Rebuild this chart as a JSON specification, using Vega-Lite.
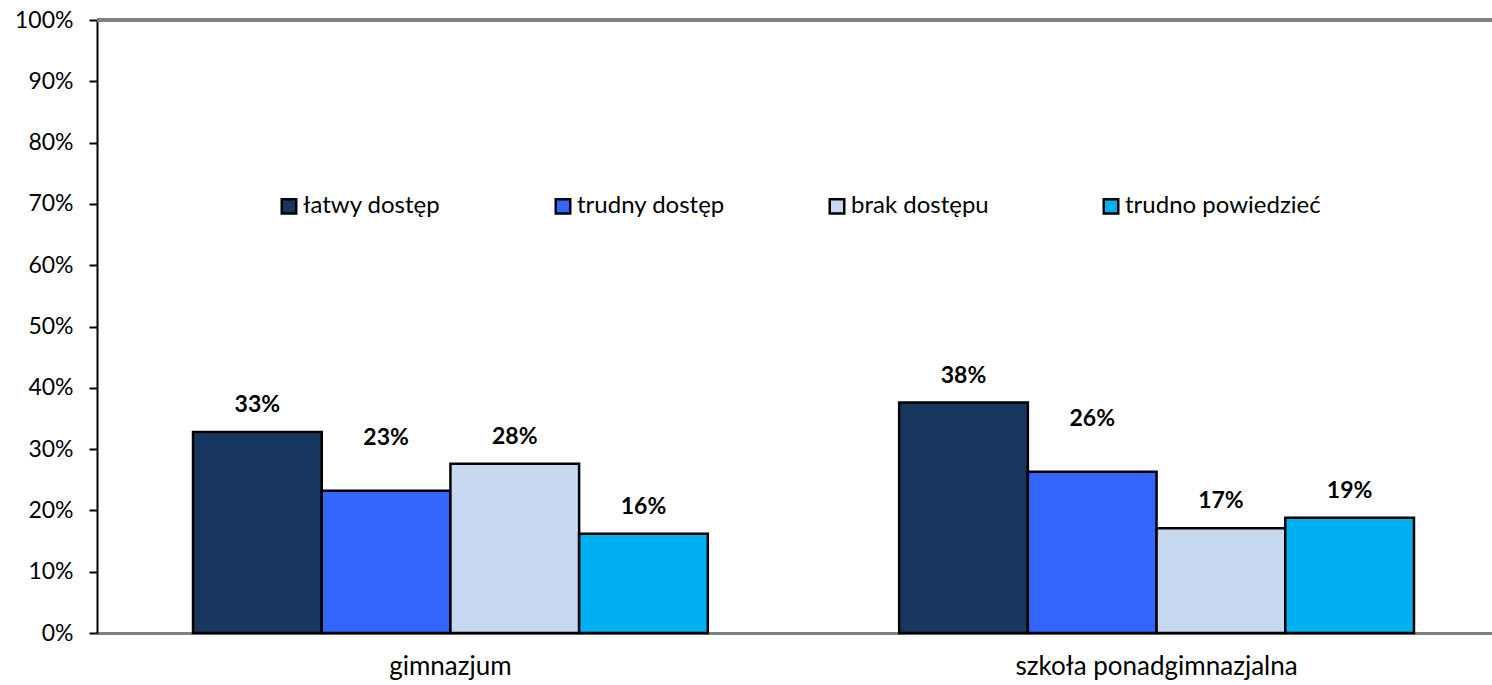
{
  "$schema": "https://vega.github.io/schema/vega-lite/v6.json",
  "autosize": {"type": "none"},
  "padding": {"left": 97, "top": 20, "right": 0, "bottom": 52},
  "width": 1413,
  "height": 613,
  "background": "white",
  "config": {
    "view": {"stroke": null},
    "font": "Lato",
    "axis": {"labelFont": "Lato", "labelColor": "black", "title": null}
  },
  "data": {
    "values": [
      {"group": "gimnazjum", "series": "łatwy dostęp", "value": 0.328},
      {"group": "gimnazjum", "series": "trudny dostęp", "value": 0.232},
      {"group": "gimnazjum", "series": "brak dostępu", "value": 0.276},
      {"group": "gimnazjum", "series": "trudno powiedzieć", "value": 0.162},
      {"group": "szkoła ponadgimnazjalna", "series": "łatwy dostęp", "value": 0.376},
      {"group": "szkoła ponadgimnazjalna", "series": "trudny dostęp", "value": 0.263},
      {"group": "szkoła ponadgimnazjalna", "series": "brak dostępu", "value": 0.171},
      {"group": "szkoła ponadgimnazjalna", "series": "trudno powiedzieć", "value": 0.188}
    ]
  },
  "encoding": {
    "x": {
      "field": "group", "type": "nominal", "sort": null,
      "scale": {"paddingInner": 0.271, "paddingOuter": 0.136},
      "axis": {
        "labelAngle": 0, "labelFontSize": 26, "labelLimit": 600, "ticks": false,
        "domainColor": "#808080", "domainWidth": 3, "labelPadding": 20
      }
    },
    "xOffset": {"field": "series", "type": "nominal", "sort": ["łatwy dostęp", "trudny dostęp", "brak dostępu", "trudno powiedzieć"]},
    "y": {
      "field": "value", "type": "quantitative",
      "scale": {"domain": [0, 1]},
      "axis": {
        "format": ".0%", "tickCount": 10, "grid": false,
        "labelFontSize": 23, "domainColor": "black", "domainWidth": 2,
        "tickColor": "black", "tickWidth": 2, "tickSize": 8, "labelPadding": 16
      }
    }
  },
  "layer": [
    {
      "mark": {"type": "rule", "color": "#808080", "strokeWidth": 3},
      "encoding": {"y": {"datum": 1}, "x": null, "xOffset": null}
    },
    {
      "mark": {"type": "bar", "stroke": "black"},
      "encoding": {
        "color": {
          "field": "series", "type": "nominal",
          "sort": ["łatwy dostęp", "trudny dostęp", "brak dostępu", "trudno powiedzieć"],
          "scale": {
            "domain": ["łatwy dostęp", "trudny dostęp", "brak dostępu", "trudno powiedzieć"],
            "range": ["#17375E", "#3366FF", "#C6D9F1", "#00B0F0"]
          },
          "legend": {
            "title": null, "orient": "none", "direction": "horizontal", "columns": 4,
            "gridAlign": "all", "columnPadding": 51, "labelLimit": 400,
            "legendX": 180, "legendY": 174,
            "symbolType": "square", "symbolSize": 210, "symbolStrokeColor": "black",
            "symbolStrokeWidth": 1.5, "symbolOpacity": 1,
            "labelFont": "Lato", "labelFontSize": 24, "labelColor": "black", "labelOffset": 2
          }
        },
        "strokeWidth": {
          "field": "series", "type": "nominal",
          "scale": {
            "domain": ["łatwy dostęp", "trudny dostęp", "brak dostępu", "trudno powiedzieć"],
            "range": [2.5, 2.5, 1, 1]
          },
          "legend": null
        }
      }
    },
    {
      "transform": [{"filter": "datum.series !== 'trudny dostęp'"}],
      "mark": {"type": "text", "fontWeight": "bold", "fontSize": 23, "baseline": "middle", "dy": -27, "color": "black"},
      "encoding": {"text": {"field": "value", "type": "quantitative", "format": ".0%"}}
    },
    {
      "transform": [{"filter": "datum.series === 'trudny dostęp'"}],
      "mark": {"type": "text", "fontWeight": "bold", "fontSize": 23, "baseline": "middle", "dy": -53, "color": "black"},
      "encoding": {"text": {"field": "value", "type": "quantitative", "format": ".0%"}}
    }
  ]
}
